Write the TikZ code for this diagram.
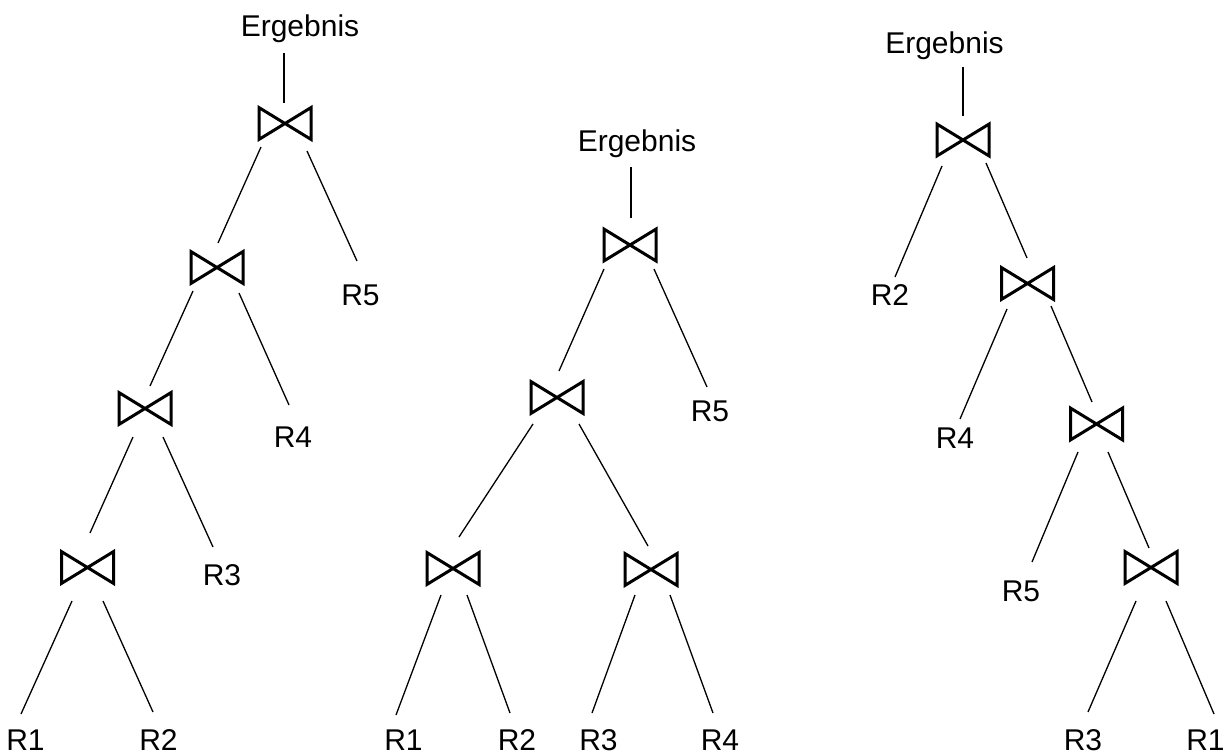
\documentclass[tikz,border=0pt]{standalone}
\usepackage{fontspec}
\setmainfont{Liberation Sans}
\begin{document}
\begin{tikzpicture}[x=1pt,y=-1pt,
  joinnode/.style={minimum width=52pt,minimum height=31.8pt,inner sep=0pt,outer sep=0pt},
  bowtie/.style={draw,line width=3pt,line join=miter,miter limit=10},
  lbl/.style={anchor=base,inner sep=0pt,font=\fontsize{30}{36}\selectfont},
  conn/.style={draw,line width=1.3pt}]
\useasboundingbox (0,0) rectangle (1226,754);

% ---------- tree 1 ----------
\node[lbl] (e1) at (300,36.5) {Ergebnis};
\node[joinnode] (j1) at (285,123.5) {};
\node[joinnode] (j2) at (217,267.5) {};
\node[joinnode] (j3) at (145,408.5) {};
\node[joinnode] (j4) at (87.5,567.5) {};
\node[lbl] (r5a) at (360.5,305) {R5};
\node[lbl] (r4a) at (293,447) {R4};
\node[lbl] (r3a) at (222,585) {R3};
\node[lbl] (r1a) at (25.5,750) {R1};
\node[lbl] (r2a) at (158.5,750) {R2};

\path[conn] ([shift={(-16,16.5)}]e1.base) -- ([shift={(-1,-20.5)}]j1.center);
\path[conn] ([shift={(-24,23.5)}]j1.center) -- ([shift={(1,-24.5)}]j2.center);
\path[conn] ([shift={(22,27.5)}]j1.center) -- ([shift={(-3.5,-44)}]r5a.base);
\path[conn] ([shift={(-24,23.5)}]j2.center) -- ([shift={(5,-22.5)}]j3.center);
\path[conn] ([shift={(22,25.5)}]j2.center) -- ([shift={(-4,-42)}]r4a.base);
\path[conn] ([shift={(-12,28.5)}]j3.center) -- ([shift={(2.5,-34.5)}]j4.center);
\path[conn] ([shift={(18,28.5)}]j3.center) -- ([shift={(-9,-38)}]r3a.base);
\path[conn] ([shift={(-15.5,33.5)}]j4.center) -- ([shift={(-4.5,-36)}]r1a.base);
\path[conn] ([shift={(15.5,33.5)}]j4.center) -- ([shift={(-5.5,-38)}]r2a.base);

% ---------- tree 2 ----------
\node[lbl] (e2) at (637,151.5) {Ergebnis};
\node[joinnode] (j5) at (630,245) {};
\node[joinnode] (j6) at (557,397.5) {};
\node[joinnode] (j7) at (453,568.5) {};
\node[joinnode] (j8) at (651,569.5) {};
\node[lbl] (r5b) at (710,421) {R5};
\node[lbl] (r1b) at (403.5,750) {R1};
\node[lbl] (r2b) at (517,750) {R2};
\node[lbl] (r3b) at (598.5,750) {R3};
\node[lbl] (r4b) at (720,750) {R4};

\path[conn] ([shift={(-6,15.5)}]e2.base) -- ([shift={(1,-27)}]j5.center);
\path[conn] ([shift={(-26,24)}]j5.center) -- ([shift={(2,-26.5)}]j6.center);
\path[conn] ([shift={(24,24)}]j5.center) -- ([shift={(-3,-34)}]r5b.base);
\path[conn] ([shift={(-24,26.5)}]j6.center) -- ([shift={(6,-31.5)}]j7.center);
\path[conn] ([shift={(22,26.5)}]j6.center) -- ([shift={(-3,-23.5)}]j8.center);
\path[conn] ([shift={(-12,26.5)}]j7.center) -- ([shift={(-7.5,-35)}]r1b.base);
\path[conn] ([shift={(14,26.5)}]j7.center) -- ([shift={(-7,-37)}]r2b.base);
\path[conn] ([shift={(-16,25.5)}]j8.center) -- ([shift={(-6.5,-37)}]r3b.base);
\path[conn] ([shift={(19,25.5)}]j8.center) -- ([shift={(-7,-37)}]r4b.base);

% ---------- tree 3 ----------
\node[lbl] (e3) at (944.5,53.5) {Ergebnis};
\node[joinnode] (j9) at (963,140) {};
\node[joinnode] (j10) at (1027.5,283.5) {};
\node[joinnode] (j11) at (1096.5,424) {};
\node[joinnode] (j12) at (1151,567.5) {};
\node[lbl] (r2c) at (890,305) {R2};
\node[lbl] (r4c) at (955,448) {R4};
\node[lbl] (r5c) at (1021,601) {R5};
\node[lbl] (r3c) at (1083,750) {R3};
\node[lbl] (r1c) at (1205.5,750) {R1};

\path[conn] ([shift={(18.5,13.5)}]e3.base) -- ([shift={(0,-24)}]j9.center);
\path[conn] ([shift={(-21,26)}]j9.center) -- ([shift={(5,-28)}]r2c.base);
\path[conn] ([shift={(23,23)}]j9.center) -- ([shift={(-0.5,-25.5)}]j10.center);
\path[conn] ([shift={(-20.5,25.5)}]j10.center) -- ([shift={(5,-29)}]r4c.base);
\path[conn] ([shift={(23.5,22.5)}]j10.center) -- ([shift={(-4.5,-22)}]j11.center);
\path[conn] ([shift={(-18.5,28)}]j11.center) -- ([shift={(11,-39)}]r5c.base);
\path[conn] ([shift={(11.5,28)}]j11.center) -- ([shift={(-2,-19.5)}]j12.center);
\path[conn] ([shift={(-15,33.5)}]j12.center) -- ([shift={(5,-38)}]r3c.base);
\path[conn] ([shift={(15,33.5)}]j12.center) -- ([shift={(8.5,-36)}]r1c.base);

% ---------- join symbols ----------
\foreach \n in {j1,j2,j3,j4,j5,j6,j7,j8,j9,j10,j11,j12}
  \path[bowtie] (\n.north west) -- (\n.south east) -- (\n.north east) -- (\n.south west) -- cycle;
\end{tikzpicture}
\end{document}
